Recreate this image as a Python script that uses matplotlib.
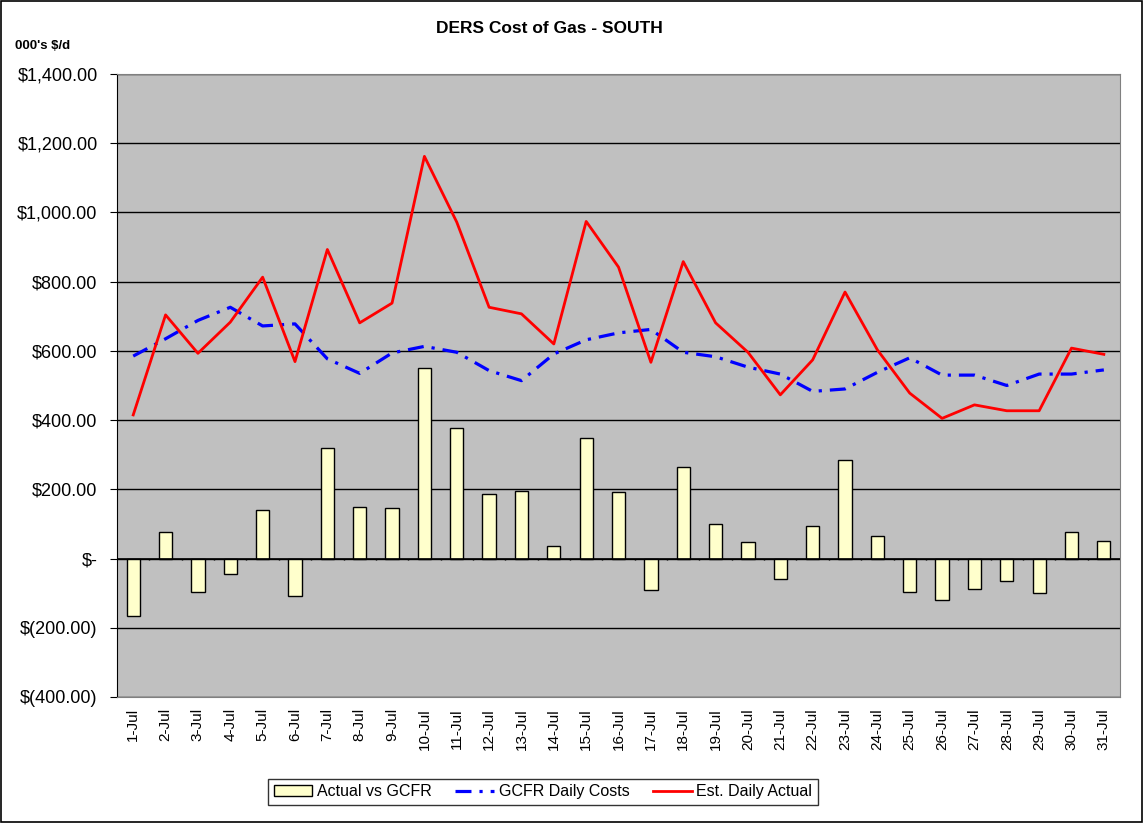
import matplotlib
matplotlib.use("Agg")
import matplotlib.pyplot as plt
from matplotlib.ticker import FuncFormatter, MultipleLocator
import numpy as np

plt.rcParams['font.family'] = ['Liberation Sans', 'DejaVu Sans']

days = [f"{d}-Jul" for d in range(1, 32)]
actual_vs_gcfr = [-166, 78, -97, -45, 141, -109, 318, 149, 146, 550,
                  376, 187, 196, 36, 347, 193, -92, 264, 100, 48,
                  -59, 95, 284, 64, -97, -121, -88, -66, -100, 78, 50]
gcfr_daily = [585, 635, 688, 726, 672, 678, 577, 535, 594, 613,
              596, 543, 514, 591, 632, 652, 662, 596, 583, 553,
              533, 483, 490, 538, 580, 530, 530, 500, 533, 533, 545]
est_daily = [415, 704, 593, 683, 813, 569, 893, 681, 738, 1162,
             972, 726, 707, 620, 974, 842, 567, 858, 681, 596,
             473, 574, 770, 603, 478, 405, 444, 427, 427, 608, 590]


def money(v, pos):
    if v == 0:
        return "$-"
    if v < 0:
        return f"$({abs(v):,.2f})"
    return f"${v:,.2f}"


fig = plt.figure(figsize=(11.43, 8.23), dpi=100)
ax = fig.add_axes([0.1024, 0.1531, 0.8775, 0.757])
ax.set_facecolor('#C0C0C0')

x = np.arange(len(days))
bars = ax.bar(x, actual_vs_gcfr, width=0.41, color='#FFFFCC', edgecolor='black',
              linewidth=1, label='Actual vs GCFR', zorder=3)
blue, = ax.plot(x, gcfr_daily, color='#0000FF', lw=2.3, linestyle=(0, (5, 2.5, 1, 2.5)),
                label='GCFR Daily Costs', zorder=4)
red, = ax.plot(x, est_daily, color='#FF0000', lw=2, label='Est. Daily Actual', zorder=5)

ax.set_ylim(-400, 1400)
ax.set_xlim(-0.5, len(days) - 0.5)
ax.yaxis.set_major_locator(MultipleLocator(200))
ax.yaxis.set_major_formatter(FuncFormatter(money))
ax.grid(axis='y', color='black', lw=1, zorder=1)
ax.axhline(0, color='black', lw=1.2, zorder=6)
# category boundary ticks on the zero line
ax.vlines(np.arange(0.5, len(days) - 0.5), -5, 0, color='black', lw=1, zorder=6)

ax.set_xticks(x)
ax.set_xticklabels(days, rotation=90, fontsize=11)
ax.tick_params(axis='x', length=0, pad=8)
ax.tick_params(axis='y', labelsize=13, length=5, direction='out', pad=9)

for side in ['top', 'right', 'bottom']:
    ax.spines[side].set_color('#808080')
ax.spines['left'].set_color('black')

fig.text(0.481, 0.965, "DERS Cost of Gas - SOUTH", ha='center', va='center',
         fontsize=12.5, fontweight='bold')
fig.text(0.013, 0.944, "000's $/d", ha='left', va='center', fontsize=9.5,
         fontweight='bold')

leg = fig.legend([bars, blue, red], ['Actual vs GCFR', 'GCFR Daily Costs', 'Est. Daily Actual'],
                 loc='center', bbox_to_anchor=(0.475, 0.038), ncol=3,
                 frameon=True, fancybox=False, edgecolor='black', fontsize=11.5,
                 handlelength=2.4, columnspacing=1.5, handletextpad=0.3,
                 borderpad=0.35)
leg.get_frame().set_linewidth(1)

fig.patches.append(plt.Rectangle((0.001, 0.001), 0.998, 0.998, transform=fig.transFigure,
                                 fill=False, edgecolor='black', lw=1.2))

fig.savefig("out.png", dpi=100)
